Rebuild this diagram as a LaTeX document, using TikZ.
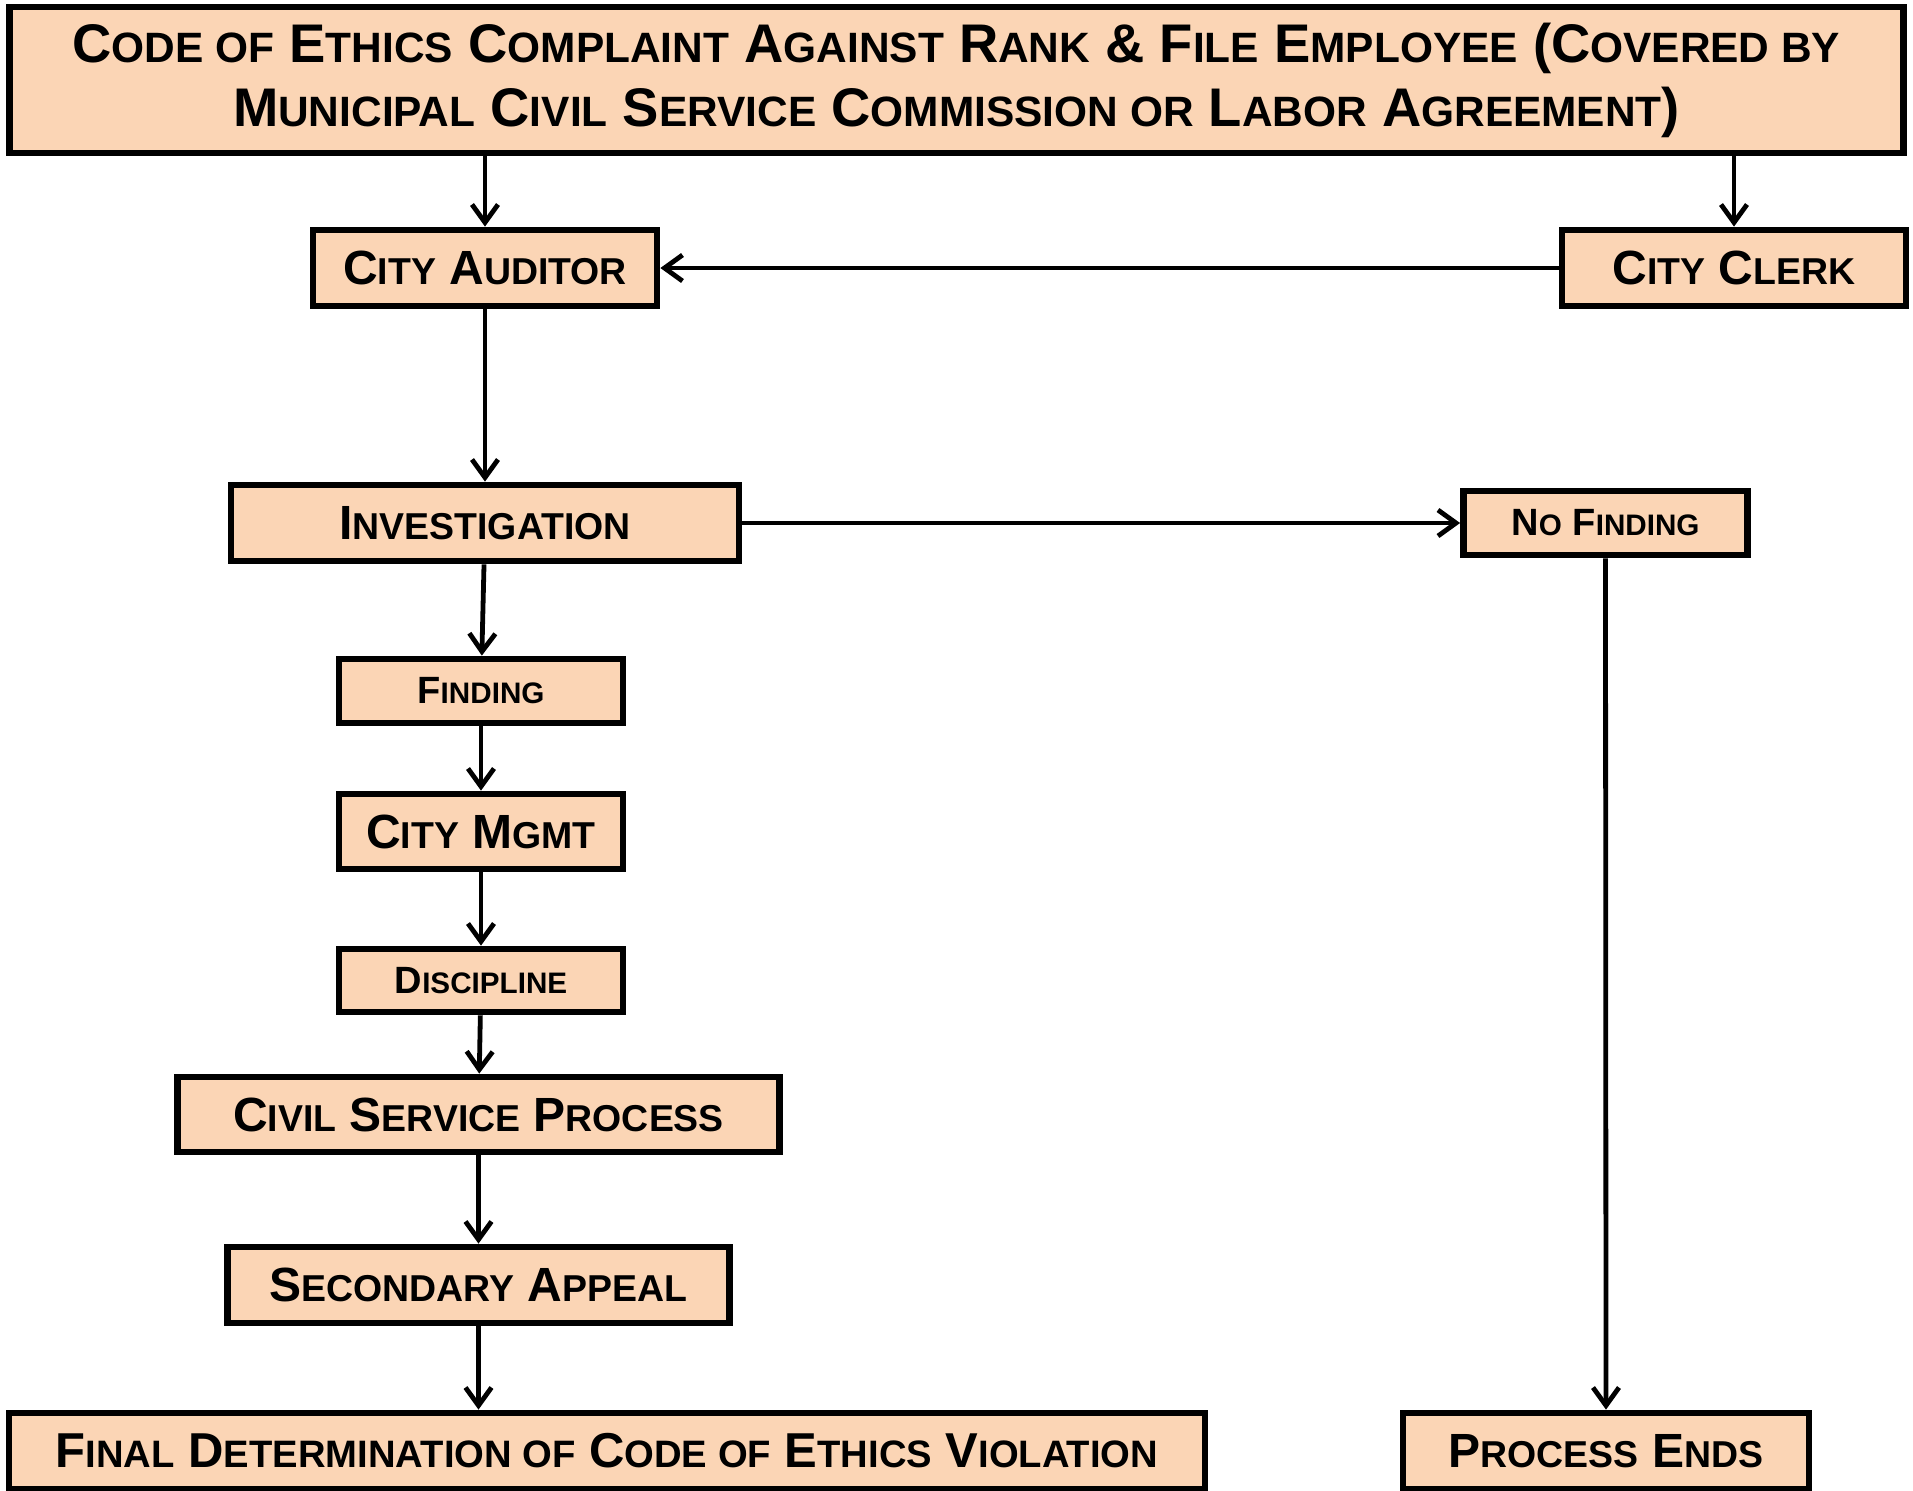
\documentclass[tikz,border=0pt]{standalone}
\usepackage{fontspec}
\setmainfont{Liberation Sans}
\usetikzlibrary{arrows.meta}
\definecolor{peach}{HTML}{FBD5B5}
\newcommand{\sm}[1]{\scalebox{0.78}{#1}}
\tikzset{
	box/.style={draw, line width=3.4pt, fill=peach, inner sep=0pt, align=center, font=\bfseries\fontsize{24}{28}\selectfont},
	small box/.style={box, font=\bfseries\fontsize{19}{22}\selectfont},
	flow/.style={line width=2.4pt, -{Straight Barb[length=9pt,width=13pt]}}
}
\begin{document}
\begin{tikzpicture}[x=0.5pt,y=-0.5pt]
		\useasboundingbox (0,0) rectangle (1913,1490);
		\node[box, minimum width=947pt, minimum height=73pt, font=\bfseries\fontsize{27.2}{32}\selectfont] (top) at (956.5,80)
			{C\sm{ODE OF} E\sm{THICS} C\sm{OMPLAINT} A\sm{GAINST} R\sm{ANK} \& F\sm{ILE} E\sm{MPLOYEE} (C\sm{OVERED BY}\\
			M\sm{UNICIPAL} C\sm{IVIL} S\sm{ERVICE} C\sm{OMMISSION OR} L\sm{ABOR} A\sm{GREEMENT})};
		\node[box, minimum width=172pt, minimum height=38pt] (aud) at (485,268) {C\sm{ITY} A\sm{UDITOR}};
		\node[box, minimum width=172pt, minimum height=38pt] (clerk) at (1734,268) {C\sm{ITY} C\sm{LERK}};
		\node[box, minimum width=254pt, minimum height=38pt] (inv) at (485,523) {I\sm{NVESTIGATION}};
		\node[small box, minimum width=142pt, minimum height=32pt] (nofind) at (1605.5,523) {N\sm{O} F\sm{INDING}};
		\node[small box, minimum width=142pt, minimum height=32pt] (find) at (481,691) {F\sm{INDING}};
		\node[box, minimum width=142pt, minimum height=37.5pt] (mgmt) at (481,831.5) {C\sm{ITY} M\sm{GMT}};
		\node[small box, minimum width=142pt, minimum height=31.5pt] (disc) at (481,980.5) {D\sm{ISCIPLINE}};
		\node[box, minimum width=301pt, minimum height=37.5pt] (civil) at (478.5,1114.5) {C\sm{IVIL} S\sm{ERVICE} P\sm{ROCESS}};
		\node[box, minimum width=251pt, minimum height=38pt] (second) at (478.5,1285) {S\sm{ECONDARY} A\sm{PPEAL}};
		\node[box, minimum width=598pt, minimum height=38pt, font=\bfseries\fontsize{24.5}{28}\selectfont] (final) at (607,1451) {F\sm{INAL} D\sm{ETERMINATION OF} C\sm{ODE OF} E\sm{THICS} V\sm{IOLATION}};
		\node[box, minimum width=203pt, minimum height=38pt] (ends) at (1606,1451) {P\sm{ROCESS} E\sm{NDS}};
		\draw[flow] (top.south -| aud.north) -- (aud.north);
		\draw[flow] (top.south -| clerk.north) -- (clerk.north);
		\draw[flow] (clerk.west) -- (aud.east);
		\draw[flow] (aud) -- (inv);
		\draw[flow] (inv.east) -- (nofind.west);
		\draw[flow] (inv) -- (find);
		\draw[flow] (find) -- (mgmt);
		\draw[flow] (mgmt) -- (disc);
		\draw[flow] (disc) -- (civil);
		\draw[flow] (civil) -- (second);
		\draw[flow] (second.south) -- (second.south |- final.north);
		\draw[flow] (nofind.south) -- (ends.north);
	\end{tikzpicture}
\end{document}
